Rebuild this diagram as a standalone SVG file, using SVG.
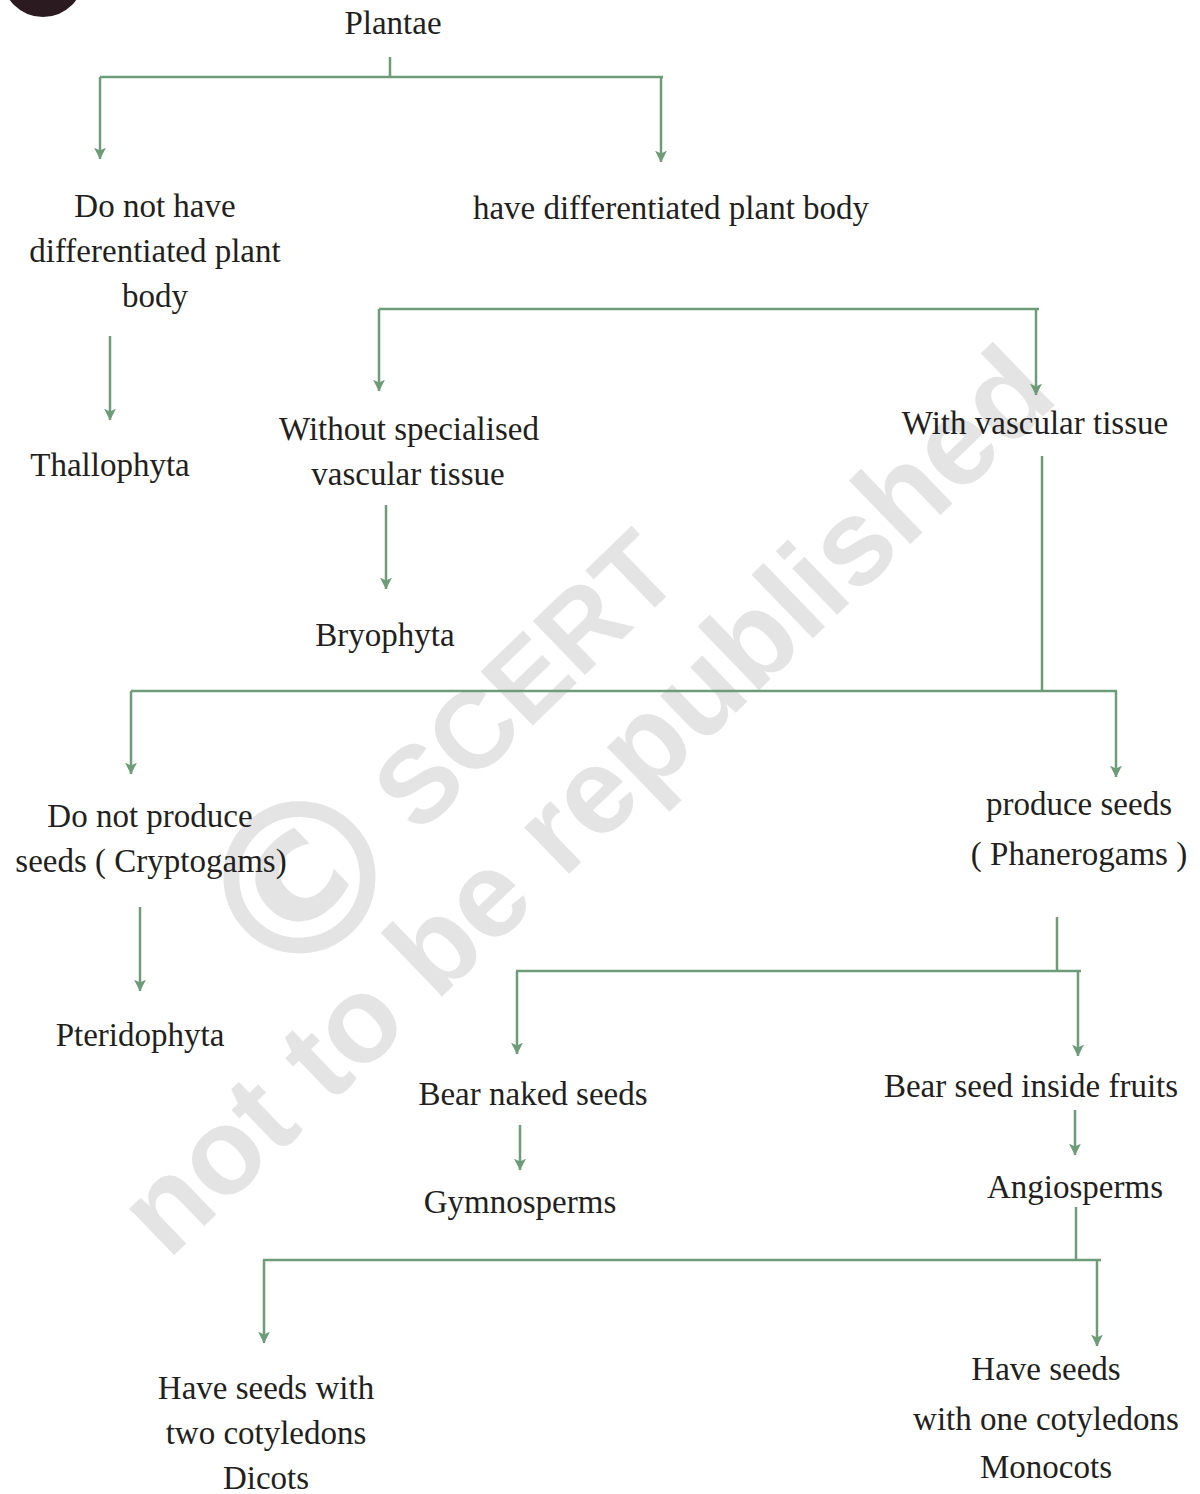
<svg xmlns="http://www.w3.org/2000/svg" width="1200" height="1494" viewBox="0 0 1200 1494">
<style>
.wm{font-family:"DejaVu Sans","Liberation Sans",sans-serif;font-weight:bold;fill:#e4e4e4;text-anchor:middle;dominant-baseline:central}
.wm2{font-family:"Liberation Sans",Arial,sans-serif;font-weight:bold;fill:#e4e4e4;text-anchor:middle;dominant-baseline:central}
.t{font-family:"Liberation Serif","Times New Roman",serif;font-size:33px;fill:#231f20;text-anchor:middle}
.c{fill:none;stroke:#6f9c78;stroke-width:2.5}
.a{marker-end:url(#arr)}
</style>
<defs>
<marker id="arr" viewBox="0 0 10 10" refX="9.5" refY="5" markerWidth="12" markerHeight="12" markerUnits="userSpaceOnUse" orient="auto">
<path d="M0,0 L10,5 L0,10 L2.5,5 Z" fill="#6f9c78"/>
</marker>
</defs>
<rect width="1200" height="1494" fill="#ffffff"/>
<circle id="corner-badge" cx="43" cy="-24" r="41" fill="#2b1a20"/>
<g id="watermark">
<text class="wm" font-size="210" transform="translate(302,880) rotate(-44)">©</text>
<text class="wm2" font-size="109" transform="translate(525,680) rotate(-44)">SCERT</text>
<text class="wm2" font-size="122" transform="translate(585,800) rotate(-44)">not to be republished</text>
</g>
<g id="connectors">
<path class="c" d="M390,57 V77 M100,77 H663"/>
<path class="c a" d="M100,77 V159"/>
<path class="c a" d="M661,77 V162"/>
<path class="c a" d="M110,336 V420"/>
<path class="c" d="M379,309 H1039"/>
<path class="c a" d="M379,309 V391"/>
<path class="c a" d="M1036,309 V395"/>
<path class="c a" d="M386,505 V589"/>
<path class="c" d="M1042,456 V691 M131,691 H1117"/>
<path class="c a" d="M131,691 V774"/>
<path class="c a" d="M1116,691 V777"/>
<path class="c a" d="M140,907 V991"/>
<path class="c" d="M1057,917 V971 M516,971 H1081"/>
<path class="c a" d="M517,971 V1054"/>
<path class="c a" d="M1078,971 V1056"/>
<path class="c a" d="M520,1125 V1170"/>
<path class="c a" d="M1075,1110 V1155"/>
<path class="c" d="M1076,1207 V1260 M263,1260 H1101"/>
<path class="c a" d="M264,1260 V1343"/>
<path class="c a" d="M1097,1260 V1346"/>
</g>
<g id="n-plantae"><text class="t" x="393" y="34">Plantae</text></g>
<g id="n-undiff"><text class="t" x="155" y="217">Do not have</text><text class="t" x="155" y="262">differentiated plant</text><text class="t" x="155" y="307">body</text></g>
<g id="n-diff"><text class="t" x="671" y="219">have differentiated plant body</text></g>
<g id="n-thallophyta"><text class="t" x="110" y="476">Thallophyta</text></g>
<g id="n-novasc"><text class="t" x="409" y="440">Without specialised</text><text class="t" x="408" y="485">vascular tissue</text></g>
<g id="n-vasc"><text class="t" x="1035" y="434">With vascular tissue</text></g>
<g id="n-bryophyta"><text class="t" x="385" y="646">Bryophyta</text></g>
<g id="n-crypto"><text class="t" x="150" y="827">Do not produce</text><text class="t" x="151" y="872">seeds ( Cryptogams)</text></g>
<g id="n-phanero"><text class="t" x="1079" y="815">produce seeds</text><text class="t" x="1079" y="865">( Phanerogams )</text></g>
<g id="n-pteridophyta"><text class="t" x="140" y="1046">Pteridophyta</text></g>
<g id="n-naked"><text class="t" x="533" y="1105">Bear naked seeds</text></g>
<g id="n-fruits"><text class="t" x="1031" y="1097">Bear seed inside fruits</text></g>
<g id="n-gymno"><text class="t" x="520" y="1213">Gymnosperms</text></g>
<g id="n-angio"><text class="t" x="1075" y="1198">Angiosperms</text></g>
<g id="n-dicots"><text class="t" x="266" y="1399">Have seeds with</text><text class="t" x="266" y="1444">two cotyledons</text><text class="t" x="266" y="1489">Dicots</text></g>
<g id="n-monocots"><text class="t" x="1046" y="1380">Have seeds</text><text class="t" x="1046" y="1430">with one cotyledons</text><text class="t" x="1046" y="1478">Monocots</text></g>
</svg>
